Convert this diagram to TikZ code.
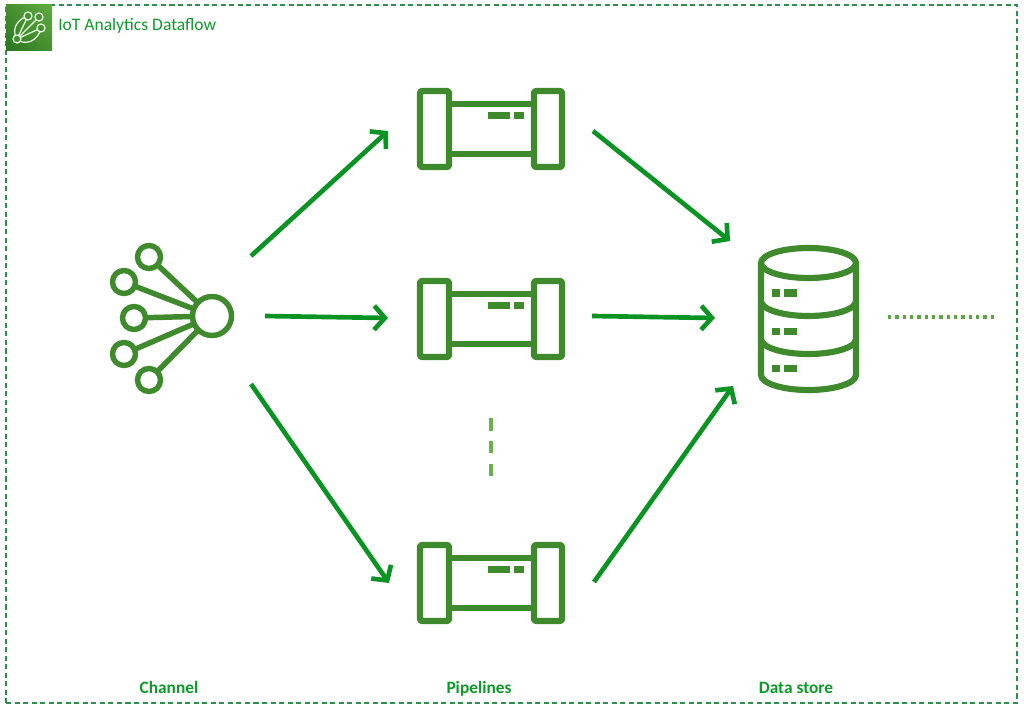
\documentclass[tikz,border=0pt]{standalone}
\usepackage{fontspec}
\setmainfont{Carlito}
\usetikzlibrary{arrows.meta,shadings}
\definecolor{icongreen}{HTML}{3F8A2C}
\definecolor{arrowgreen}{HTML}{0B9423}
\definecolor{textgreen}{HTML}{0E9A2B}
\definecolor{framegreen}{HTML}{2F8F4C}
\definecolor{lightgreen}{HTML}{6AB04C}
\definecolor{logodark}{HTML}{2A7520}
\definecolor{logolight}{HTML}{62AB42}
\tikzset{
  x=0.75pt,y=-0.75pt,
  iconline/.style={draw=icongreen,line width=4.6pt,line join=round},
  iconthin/.style={draw=icongreen,line width=4.1pt},
  iconbar/.style={fill=icongreen,draw=none},
  flow/.style={draw=arrowgreen,line width=3.5pt,-{Straight Barb[length=8pt,width=18pt,line width=3.5pt]}},
  lbl/.style={text=textgreen,font=\fontsize{13}{15}\selectfont\bfseries,inner sep=0pt,anchor=center},
  logoline/.style={draw=white!92!green,line width=0.9pt},
  pics/pipeline/.style={code={
    \draw[iconline,rounded corners=1.5pt] (-71,-38) rectangle (-42,38);
    \draw[iconline,rounded corners=1.5pt] (43,-38) rectangle (71,38);
    \draw[iconline] (-42,-25) -- (43,-25);
    \draw[iconline] (-42,25) -- (43,25);
    \fill[iconbar] (-3,-17) rectangle (19,-10);
    \fill[iconbar] (23,-17) rectangle (33,-10);
  }},
}
\begin{document}
\begin{tikzpicture}
\useasboundingbox (0,0) rectangle (1024,709);
% frame
\node[draw=framegreen,dash pattern=on 3.8pt off 2.6pt,line width=0.8pt,inner sep=0pt,rectangle,
      minimum width=758.25pt,minimum height=523.5pt] (frame) at (511.5,354) {};
% logo
\node[inner sep=0pt,minimum size=34.5pt,lower left=logodark,lower right=logodark!50!logolight,upper left=logodark!50!logolight,upper right=logolight] (logo) at (29,28) {};
\coordinate (l1) at (28,16);
\coordinate (l2) at (39,17);
\coordinate (l3) at (41,28);
\coordinate (l4) at (17,39);
\draw[logoline] (l4) -- (l1);
\draw[logoline] (l4) -- (l2);
\draw[logoline] (l4) -- (l3);
\draw[logoline] (l1) .. controls (17,19) and (11,30) .. (l4);
\draw[logoline] (l4) .. controls (24,46) and (38,42) .. (l3);
\foreach \c in {l1,l2,l3,l4} \draw[logoline,fill=logodark!50!logolight] (\c) circle (4);
\node[text=textgreen,font=\fontsize{13.15}{15}\selectfont,anchor=west,inner sep=0pt] (title) at (58,26) {IoT Analytics Dataflow};
% channel
\coordinate (hub) at (212,316);
\foreach \n/\px/\py in {a/149/257,b/124/282,c/134/318,d/124/354,e/149/380}{
  \coordinate (\n) at (\px,\py);
  \draw[iconthin] (\n) -- (hub);
  \draw[iconthin,fill=white] (\n) circle (11.5);
}
\draw[iconthin,fill=white] (hub) circle (19.5);
% pipelines
\pic (p1) at (491,129) {pipeline};
\pic (p2) at (491,319) {pipeline};
\pic (p3) at (491,583) {pipeline};
\coordinate (gapA) at (491,418);
\coordinate (gapB) at (491,476);
\draw[draw=lightgreen,line width=2.7pt,dash pattern=on 9.4pt off 7.8pt] (gapA) -- (gapB);
% data store
\draw[iconline] (761,263) -- (761,375) arc[start angle=180,end angle=0,x radius=47.5,y radius=15] -- (856,263);
\draw[iconline] (808.5,263) ellipse[x radius=47.5,y radius=15];
\draw[iconline] (761,301) arc[start angle=180,end angle=0,x radius=47.5,y radius=15];
\draw[iconline] (761,339) arc[start angle=180,end angle=0,x radius=47.5,y radius=15];
\foreach \y in {293,331,368}{
  \fill[iconbar] (772,\y-3.5) rectangle (780,\y+3.5);
  \fill[iconbar] (784,\y-3.5) rectangle (797,\y+3.5);
}
\coordinate (outA) at (888,317);
\coordinate (outB) at (996,317);
\draw[draw=lightgreen!70!icongreen,line width=2.4pt,dash pattern=on 2.4pt off 3.1pt] (outA) -- (outB);
% flows
\coordinate (c1s) at (251,256); \coordinate (c1e) at (388,131);
\coordinate (c2s) at (265,316); \coordinate (c2e) at (388,318);
\coordinate (c3s) at (251,384); \coordinate (c3e) at (389,583);
\coordinate (d1s) at (593,131); \coordinate (d1e) at (730,241);
\coordinate (d2s) at (592,316); \coordinate (d2e) at (715,318);
\coordinate (d3s) at (594,582); \coordinate (d3e) at (733,386);
\draw[flow] (c1s) -- (c1e);
\draw[flow] (c2s) -- (c2e);
\draw[flow] (c3s) -- (c3e);
\draw[flow] (d1s) -- (d1e);
\draw[flow] (d2s) -- (d2e);
\draw[flow] (d3s) -- (d3e);
% labels
\node[lbl] (channel) at (169,687) {Channel};
\node[lbl] (pipelines) at (479,688.5) {Pipelines};
\node[lbl] (store) at (796,688) {Data store};
\end{tikzpicture}
\end{document}
